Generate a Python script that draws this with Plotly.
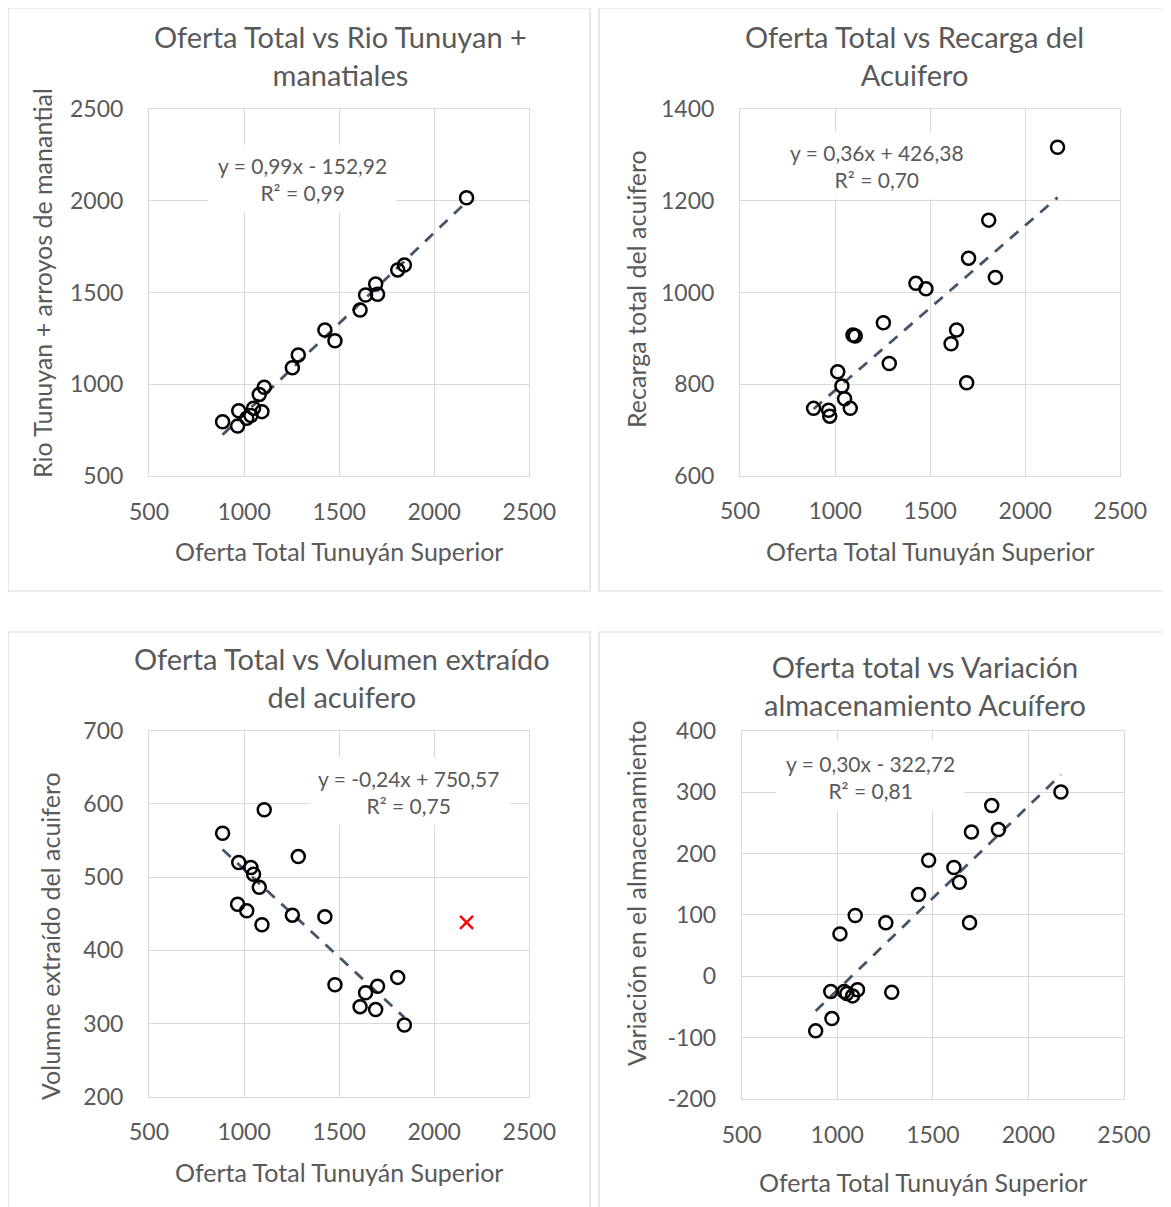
import plotly.graph_objects as go

# ---------------- data ----------------
oferta = [887, 966, 972, 1014, 1036, 1050, 1080, 1094, 1106, 1254,
          1285, 1425, 1478, 1610, 1639, 1692, 1702, 1808, 1843, 2170]
rio_manantial = [796, 773, 856, 815, 830, 870, 945, 851, 984, 1090,
                 1160, 1296, 1238, 1405, 1487, 1547, 1491, 1624, 1651, 2018]
recarga = [747, 743, 730, 827, 796, 768, 747, 907, 905, 934,
           845, 1020, 1008, 888, 918, 803, 1075, 1158, 1033, 1317]
oferta_extr = [887, 966, 972, 1014, 1036, 1050, 1080, 1094, 1106, 1254,
               1285, 1425, 1478, 1610, 1639, 1692, 1702, 1808, 1843]
extraido = [560, 463, 520, 454, 513, 504, 486, 435, 592, 448,
            528, 446, 353, 323, 342, 319, 351, 363, 298]
outlier_x = [2170]
outlier_y = [438]
variacion = [-89, -25, -69, 69, -25, -28, -32, 99, -22, 87,
             -26, 133, 189, 177, 153, 87, 235, 278, 239, 300]

# trendline coefficients (slope, intercept) as shown in the chart
trend_rio = (0.99, -152.92)
trend_rec = (0.36, 426.38)
trend_ext = (-0.24, 750.57)
trend_var = (0.30, -322.72)

x_ticks = [500, 1000, 1500, 2000, 2500]
y_ticks = [[500, 1000, 1500, 2000, 2500],
           [600, 800, 1000, 1200, 1400],
           [200, 300, 400, 500, 600, 700],
           [-200, -100, 0, 100, 200, 300, 400]]

titles = ["Oferta Total vs Rio Tunuyan +<br>manatiales",
          "Oferta Total vs Recarga del<br>Acuifero",
          "Oferta Total vs Volumen extraído<br>del acuifero",
          "Oferta total vs Variación<br>almacenamiento Acuífero"]
ytitles = ["Rio Tunuyan + arroyos de manantial",
           "Recarga total del acuifero",
           "Volumne extraído del acuifero",
           "Variación en el almacenamiento"]
xtitle = "Oferta Total Tunuyán Superior"
equations = ["y = 0,99x - 152,92<br>R² = 0,99",
             "y = 0,36x + 426,38<br>R² = 0,70",
             "y = -0,24x + 750,57<br>R² = 0,75",
             "y = 0,30x - 322,72<br>R² = 0,81"]

# ---------------- layout helpers ----------------
W, H = 1171, 1207
OFF = 8  # page body margin
FONT = "Lato"
GRAY = "#595959"


def px(x):
    return (x - OFF) / W


def py(y):
    return 1 - (y - OFF) / H


fig = go.Figure()

areas = [(149, 529.3, 109.3, 476),
         (740, 1120.3, 109.3, 475.7),
         (149, 529.3, 730.7, 1096.7),
         (741.7, 1124, 730.7, 1099)]

series = [(oferta, rio_manantial, trend_rio),
          (oferta, recarga, trend_rec),
          (oferta_extr, extraido, trend_ext),
          (oferta, variacion, trend_var)]

for i, (area, (xs, ys, tr), yt) in enumerate(zip(areas, series, y_ticks)):
    n = "" if i == 0 else str(i + 1)
    x0, x1, ytop, ybot = area
    axis_common = dict(
        showgrid=True, gridcolor="#d9d9d9", gridwidth=1,
        showline=True, linecolor="#d9d9d9", linewidth=1, mirror=True,
        zeroline=False, ticks="", fixedrange=True, automargin=False,
        tickfont=dict(family=FONT, size=23, color=GRAY),
        tickmode="array",
    )
    fig.update_layout(**{
        "xaxis" + n: dict(domain=[px(x0), px(x1)], range=[x_ticks[0], x_ticks[-1]],
                          tickvals=x_ticks, ticktext=[str(v) for v in x_ticks],
                          anchor="y" + n, ticklabelstandoff=15, **axis_common),
        "yaxis" + n: dict(domain=[py(ybot), py(ytop)], range=[yt[0], yt[-1]],
                          tickvals=yt, ticktext=[str(v) for v in yt],
                          anchor="x" + n, ticklabelstandoff=20, **axis_common),
    })
    xa, ya = "x" + n, "y" + n
    lo, hi = min(xs), max(xs)
    fig.add_trace(go.Scatter(
        x=[lo, hi], y=[tr[0] * lo + tr[1], tr[0] * hi + tr[1]],
        mode="lines", line=dict(color="#44546a", width=2.8, dash="11px,9px"),
        xaxis=xa, yaxis=ya, showlegend=False, hoverinfo="skip"))
    fig.add_trace(go.Scatter(
        x=xs, y=ys, mode="markers",
        marker=dict(symbol="circle-open", size=13, color="black",
                    line=dict(width=2.5, color="black")),
        xaxis=xa, yaxis=ya, showlegend=False))

# excluded outlier (red cross) on panel 3
fig.add_trace(go.Scatter(
    x=outlier_x, y=outlier_y, mode="markers",
    marker=dict(symbol="x-thin", size=13, color="#ff0000",
                line=dict(width=2.5, color="#ff0000")),
    xaxis="x3", yaxis="y3", showlegend=False))

shapes = []
annotations = []

borders = [(8, 8, 590, 591), (599, 8, 1190, 591),
           (8, 632, 590, 1225), (599, 632, 1190, 1225)]
for (a, b, c, d) in borders:
    shapes.append(dict(type="rect", xref="paper", yref="paper",
                       x0=px(a), x1=px(c), y0=py(d), y1=py(b),
                       line=dict(color="#d9d9d9", width=1.2),
                       fillcolor="rgba(0,0,0,0)", layer="below"))

eq_boxes = [(208, 145, 396, 212), (787, 132, 967, 199),
            (310, 758, 510, 825), (776, 740, 964, 811)]
eq_centers = [(302, 179), (877, 166), (408, 792), (870, 777)]
for (a, b, c, d), (cx, cy), txt in zip(eq_boxes, eq_centers, equations):
    shapes.append(dict(type="rect", xref="paper", yref="paper",
                       x0=px(a), x1=px(c), y0=py(d), y1=py(b),
                       line=dict(width=0), fillcolor="white", layer="above"))
    annotations.append(dict(xref="paper", yref="paper", x=px(cx), y=py(cy),
                            text=txt, showarrow=False, xanchor="center",
                            yanchor="middle", align="center",
                            font=dict(family=FONT, size=21, color=GRAY)))

title_centers = [(340, 56), (914, 56), (342, 677), (925, 685)]
for (cx, cy), txt in zip(title_centers, titles):
    annotations.append(dict(xref="paper", yref="paper", x=px(cx), y=py(cy),
                            text=txt, showarrow=False, xanchor="center",
                            yanchor="middle", align="center",
                            font=dict(family=FONT, size=29, color=GRAY)))

ytitle_centers = [(42, 283), (636, 289), (50, 936), (636, 893)]
for (cx, cy), txt in zip(ytitle_centers, ytitles):
    annotations.append(dict(xref="paper", yref="paper", x=px(cx), y=py(cy),
                            text=txt, showarrow=False, textangle=-90,
                            xanchor="center", yanchor="middle",
                            font=dict(family=FONT, size=25, color=GRAY)))

xtitle_centers = [(339, 551), (930, 551), (339, 1172), (923, 1182)]
for (cx, cy) in xtitle_centers:
    annotations.append(dict(xref="paper", yref="paper", x=px(cx), y=py(cy),
                            text=xtitle, showarrow=False,
                            xanchor="center", yanchor="middle",
                            font=dict(family=FONT, size=25, color=GRAY)))

fig.update_layout(
    width=W, height=H,
    margin=dict(l=0, r=0, t=0, b=0, autoexpand=False),
    paper_bgcolor="white", plot_bgcolor="white",
    shapes=shapes, annotations=annotations,
    showlegend=False,
)

fig.write_html("out.html")
